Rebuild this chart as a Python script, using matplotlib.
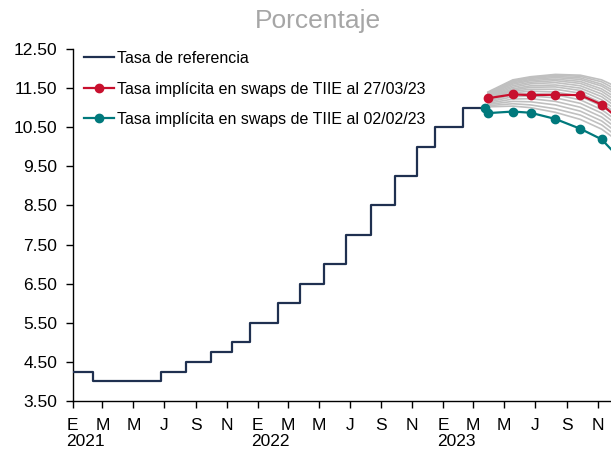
import numpy as np
import pandas as pd
import matplotlib
matplotlib.use("Agg")
import matplotlib.pyplot as plt
import matplotlib.dates as mdates
import matplotlib.transforms as mtransforms

plt.rcParams['font.family'] = ['Liberation Sans', 'DejaVu Sans']

# Tasa de referencia (fechas de cambio y nivel)
refDates = ["2021-01-01", "2021-02-11", "2021-06-24", "2021-08-12", "2021-09-30",
            "2021-11-11", "2021-12-16", "2022-02-10", "2022-03-24", "2022-05-12",
            "2022-06-23", "2022-08-11", "2022-09-29", "2022-11-10", "2022-12-15",
            "2023-02-09", "2023-03-24"]
refValues = [4.25, 4.00, 4.25, 4.50, 4.75, 5.00, 5.50, 6.00, 6.50, 7.00,
             7.75, 8.50, 9.25, 10.00, 10.50, 11.00, 11.00]

# Fechas de decision de politica monetaria 2023
swapDates = ["2023-03-30", "2023-05-18", "2023-06-22", "2023-08-10",
             "2023-09-28", "2023-11-09", "2023-12-14"]

# Swaps de TIIE al 27/03/23
swap2703 = [11.24, 11.34, 11.32, 11.33, 11.32, 11.08, 10.70]

# Swaps de TIIE al 02/02/23 (inicia en la tasa vigente)
swap0202Dates = ["2023-03-24"] + swapDates
swap0202 = [11.00, 10.86, 10.90, 10.87, 10.71, 10.46, 10.19, 9.71]

# Trayectorias intermedias (gris)
grayPaths = [
    [11.40, 11.71, 11.79, 11.85, 11.83, 11.71, 11.50],
    [11.38, 11.68, 11.77, 11.83, 11.80, 11.66, 11.42],
    [11.36, 11.66, 11.75, 11.80, 11.76, 11.60, 11.35],
    [11.34, 11.63, 11.72, 11.77, 11.72, 11.55, 11.28],
    [11.32, 11.60, 11.69, 11.73, 11.67, 11.48, 11.20],
    [11.30, 11.56, 11.65, 11.69, 11.62, 11.42, 11.12],
    [11.28, 11.52, 11.61, 11.64, 11.56, 11.35, 11.04],
    [11.26, 11.48, 11.56, 11.58, 11.50, 11.28, 10.96],
    [11.24, 11.45, 11.52, 11.53, 11.44, 11.20, 10.88],
    [11.22, 11.42, 11.47, 11.47, 11.37, 11.12, 10.80],
    [11.20, 11.38, 11.42, 11.40, 11.29, 11.04, 10.72],
    [11.17, 11.33, 11.36, 11.33, 11.20, 10.95, 10.62],
    [11.14, 11.28, 11.30, 11.25, 11.11, 10.86, 10.52],
    [11.11, 11.22, 11.23, 11.16, 11.01, 10.76, 10.42],
    [11.08, 11.16, 11.15, 11.07, 10.91, 10.66, 10.32],
    [11.05, 11.10, 11.07, 10.97, 10.81, 10.56, 10.22],
    [11.02, 11.04, 11.00, 10.88, 10.70, 10.45, 10.12],
]

monthLetters = {1: "E", 3: "M", 5: "M", 7: "J", 9: "S", 11: "N"}
yearLabels = ["2021", "2022", "2023"]

refX = pd.to_datetime(refDates)
swapX = pd.to_datetime(swapDates)
swap0202X = pd.to_datetime(swap0202Dates)

fig = plt.figure(figsize=(6.11, 4.51), dpi=100)
# the right part of the axis runs off the picture, like in the original
ax = fig.add_axes([0.1187, 0.1109, 0.9092, 0.7805])

for path in grayPaths:
    ax.plot(swapX, path, color="#c0c0c0", lw=1.2, zorder=1)

ax.plot(refX, refValues, drawstyle="steps-post", color="#1f3050", lw=1.6,
        label="Tasa de referencia", zorder=3)
ax.plot(swapX, swap2703, color="#c8102e", lw=1.6, marker="o", ms=6,
        label="Tasa implícita en swaps de TIIE al 27/03/23", zorder=4)
ax.plot(swap0202X, swap0202, color="#00797c", lw=1.6, marker="o", ms=6,
        label="Tasa implícita en swaps de TIIE al 02/02/23", zorder=4)

ax.set_ylim(3.5, 12.5)
ax.set_yticks(np.arange(3.5, 12.6, 1.0))
ax.yaxis.set_major_formatter(plt.FormatStrFormatter("%.2f"))
ax.set_xlim(pd.Timestamp("2021-01-01"), pd.Timestamp("2023-12-31"))

ax.xaxis.set_major_locator(mdates.MonthLocator(bymonth=[1, 3, 5, 7, 9, 11]))
ax.xaxis.set_major_formatter(plt.FuncFormatter(
    lambda v, pos: monthLetters.get(mdates.num2date(v).month, "")))

ax.tick_params(axis="both", labelsize=12.5, colors="black", direction="out")
ax.tick_params(axis="y", length=5, width=1, pad=6)
ax.tick_params(axis="x", length=5, width=1, pad=7)

for side in ["top", "right"]:
    ax.spines[side].set_visible(False)
for side in ["left", "bottom"]:
    ax.spines[side].set_color("black")
    ax.spines[side].set_linewidth(1)

# years under the January ticks
trans = mtransforms.blended_transform_factory(ax.transData, ax.transAxes)
for yr in yearLabels:
    ax.text(pd.Timestamp(yr + "-01-26"), -0.115, yr, transform=trans,
            ha="center", va="center", fontsize=12.5)

leg = ax.legend(loc="upper left", bbox_to_anchor=(0.0, 1.026), frameon=False,
                fontsize=11.5, handlelength=1.9, handletextpad=0.2,
                labelspacing=0.97, borderaxespad=0.3)

fig.text(318 / 611, 1 - 21 / 451, "Porcentaje", ha="center", va="center",
         fontsize=19, color="#a6a6a6")

fig.savefig("out.png", dpi=100)
